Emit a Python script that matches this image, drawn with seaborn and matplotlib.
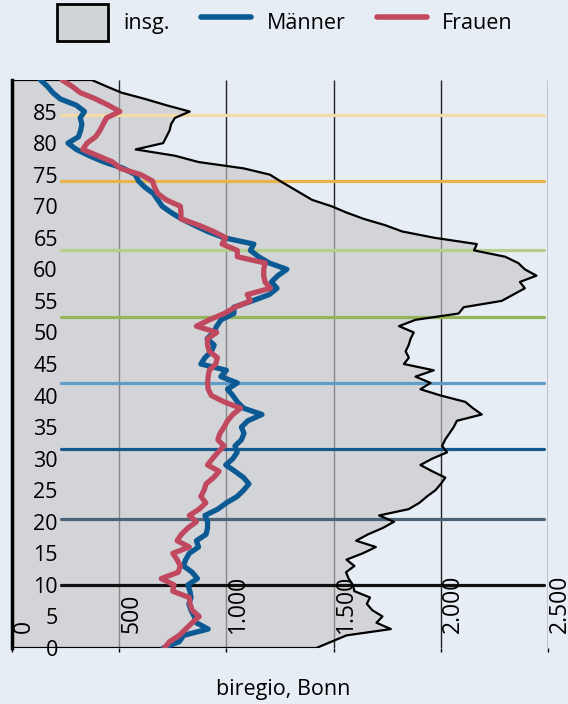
import numpy as np
import pandas as pd
import matplotlib
matplotlib.use("Agg")
import matplotlib.pyplot as plt
from matplotlib.patches import Patch
from matplotlib.lines import Line2D
import seaborn as sns

# Alter 0..90, Einwohner je Altersjahr
alter = list(range(0, 91))

insg = [1419, 1490, 1560, 1767, 1700, 1728, 1680, 1655, 1670, 1597,
        1590, 1570, 1558, 1597, 1560, 1636, 1697, 1605, 1660, 1728,
        1782, 1712, 1850, 1900, 1935, 1975, 2000, 2021, 1960, 1905,
        1960, 2029, 2006, 2020, 2040, 2060, 2075, 2191, 2150, 2114,
        2000, 1905, 1952, 1882, 1967, 1828, 1851, 1836, 1850, 1859,
        1874, 1805, 1882, 2083, 2107, 2284, 2338, 2392, 2369, 2446,
        2392, 2361, 2300, 2155, 2168, 1970, 1820, 1740, 1640, 1560,
        1490, 1400, 1350, 1300, 1250, 1203, 1080, 870, 760, 577,
        705, 720, 735, 742, 760, 829, 720, 620, 510, 440,
        372]

maenner = [705, 780, 800, 915, 860, 850, 835, 825, 835, 830,
           820, 865, 840, 800, 810, 827, 870, 860, 905, 912,
           912, 900, 960, 1000, 1050, 1080, 1105, 1080, 1040, 997,
           1030, 1050, 1040, 1070, 1082, 1070, 1100, 1166, 1080, 1051,
           1030, 1005, 1051, 974, 1000, 881, 900, 930, 943, 910,
           940, 955, 975, 1035, 1035, 1120, 1200, 1236, 1210, 1240,
           1282, 1200, 1150, 1112, 1128, 989, 912, 850, 790, 742,
           700, 680, 660, 620, 590, 575, 520, 430, 360, 300,
           261, 310, 320, 326, 318, 338, 300, 225, 190, 165,
           133]

frauen = [711, 735, 780, 810, 840, 873, 840, 830, 827, 750,
          755, 696, 775, 785, 770, 750, 827, 770, 790, 820,
          860, 827, 873, 904, 881, 896, 905, 940, 966, 912,
          935, 960, 989, 960, 970, 989, 1005, 1030, 1066, 989,
          930, 915, 912, 915, 920, 950, 958, 920, 912, 912,
          955, 860, 920, 990, 1040, 1112, 1097, 1205, 1180, 1174,
          1174, 1181, 1051, 1051, 980, 997, 940, 870, 788, 788,
          785, 720, 680, 665, 655, 600, 505, 470, 400, 330,
          350, 390, 410, 425, 441, 503, 450, 390, 318, 280,
          233]

# Generationsgrenzen (Alter) und Farben
grenzen = [84.5, 74, 63, 52.5, 42, 31.5, 20.5, 10]
grenz_farben = ["#f3dca6", "#e8b44a", "#b6cf8c", "#94b55a",
                "#5f9cc8", "#155a8f", "#4d6378", "#111111"]

x_ticks = [0, 500, 1000, 1500, 2000, 2500]
x_labels = ["0", "500", "1.000", "1.500", "2.000", "2.500"]
y_ticks = list(range(0, 90, 5))

df = pd.DataFrame({"Alter": alter, "insg.": insg,
                   "Männer": maenner, "Frauen": frauen})

bg = "#e6edf4"
blau = "#0b5a94"
rot = "#c0485f"
grau = "#c6c6c8"

sns.set_style("white")
plt.rcParams["font.family"] = ["Open Sans", "DejaVu Sans"]
plt.rcParams["text.color"] = "black"

fig = plt.figure(figsize=(5.68, 7.04), dpi=100, facecolor=bg)
ax = fig.add_axes([12 / 568, 56 / 704, 536 / 568, 568 / 704])
ax.set_facecolor(bg)
ax.set_axisbelow(False)  # Achsenbeschriftung über der Fläche

# Gitterlinien unter der halbtransparenten Fläche
ax.vlines(x_ticks[1:], 0, 90, color="#222222", lw=1.0, zorder=0.5)

# Gesamt als Fläche mit Umriss
ax.fill_betweenx(df["Alter"], 0, df["insg."], color=grau, alpha=0.62,
                 lw=0, zorder=1)
umriss_x = np.r_[0, df["insg."].values[::-1], 0]
umriss_y = np.r_[df["Alter"].values[-1], df["Alter"].values[::-1], df["Alter"].values[0]]
ax.plot(umriss_x, umriss_y, color="black", lw=1.6, zorder=3)

for g, c in zip(grenzen, grenz_farben):
    ax.plot([230, 2480], [g, g], color=c, lw=2.3, zorder=2.5)

sns.lineplot(data=df, x="Männer", y="Alter", orient="y", sort=False,
             estimator=None, color=blau, lw=3.8, ax=ax, zorder=4)
sns.lineplot(data=df, x="Frauen", y="Alter", orient="y", sort=False,
             estimator=None, color=rot, lw=3.8, ax=ax, zorder=5)

ax.set_xlim(0, 2500)
ax.set_ylim(0, 90)
ax.set_xlabel("")
ax.set_ylabel("")
ax.grid(False)

for s in ["top", "right", "bottom"]:
    ax.spines[s].set_visible(False)
ax.spines["left"].set_color("black")
ax.spines["left"].set_linewidth(2.5)

ax.set_xticks(x_ticks, x_labels)
ax.tick_params(axis="x", length=3, width=1, color="black", direction="out",
               pad=-14, labelsize=16.5, labelcolor="black", bottom=True)
for t in ax.get_xticklabels():
    t.set_rotation(90)
    t.set_va("bottom")
    t.set_ha("left")

ax.set_yticks(y_ticks, [str(v) for v in y_ticks])
ax.tick_params(axis="y", length=0, pad=-33, labelsize=15.5,
               labelcolor="black", left=False)
for t in ax.get_yticklabels():
    t.set_ha("right")
    t.set_va("center_baseline")

handles = [Patch(facecolor="#d1d4d7", edgecolor="black", lw=2),
           Line2D([0], [0], color=blau, lw=4),
           Line2D([0], [0], color=rot, lw=4)]
fig.legend(handles, ["insg.", "Männer", "Frauen"], loc="center",
           bbox_to_anchor=(0.502, 0.968), ncol=3, frameon=False,
           fontsize=15.5, handlelength=2.35, handleheight=2.2,
           handletextpad=0.7, columnspacing=1.45)

fig.text(0.498, 0.02, "biregio, Bonn", ha="center", va="center",
         fontsize=15.5)

fig.savefig("out.png", dpi=100, facecolor=bg)
